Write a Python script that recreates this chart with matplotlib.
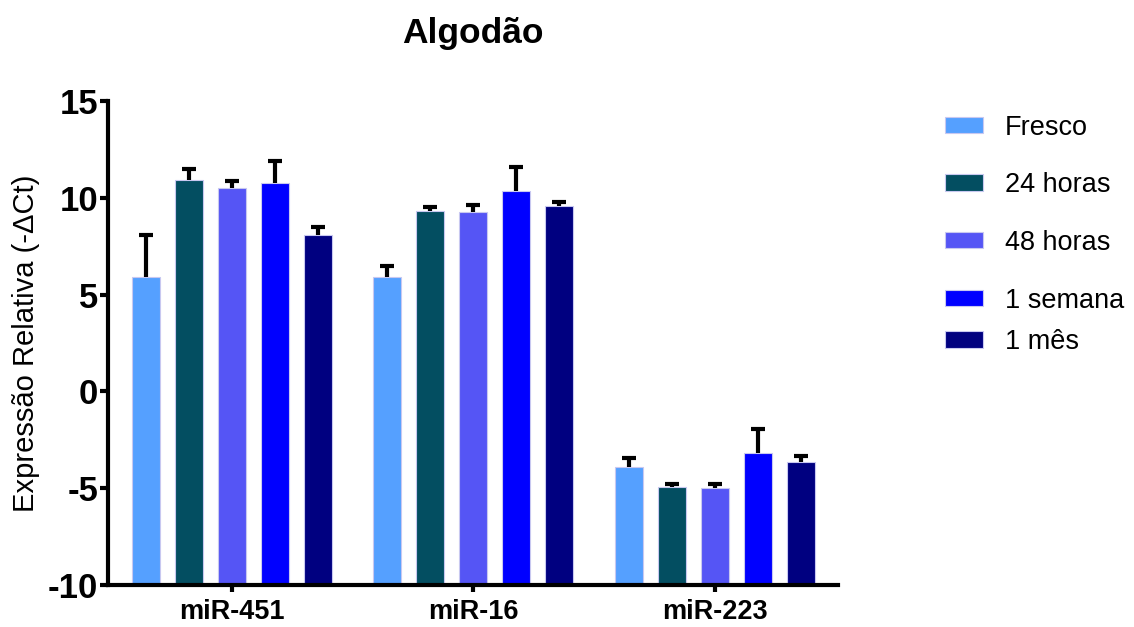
import matplotlib
matplotlib.use("Agg")
import matplotlib.pyplot as plt
import numpy as np

plt.rcParams['font.family'] = ['Liberation Sans', 'DejaVu Sans']

groups = ["miR-451", "miR-16", "miR-223"]
series = ["Fresco", "24 horas", "48 horas", "1 semana", "1 mês"]
colors = ["#55A0FF", "#034E61", "#5555F5", "#0000FF", "#000080"]

fresco = [5.9, 5.9, -3.9]
h24 = [10.9, 9.3, -4.93]
h48 = [10.5, 9.25, -5.0]
semana = [10.77, 10.35, -3.2]
mes = [8.08, 9.58, -3.65]
values = [fresco, h24, h48, semana, mes]

err_fresco = [2.2, 0.58, 0.46]
err_h24 = [0.56, 0.2, 0.17]
err_h48 = [0.34, 0.4, 0.24]
err_semana = [1.12, 1.23, 1.25]
err_mes = [0.39, 0.2, 0.31]
errors = [err_fresco, err_h24, err_h48, err_semana, err_mes]

baseline = -10

fig = plt.figure(figsize=(11.34, 6.27), dpi=100)
ax = fig.add_axes([0.0952, 0.067, 0.644, 0.772])

x = np.arange(len(groups))
spacing = 0.1777
width = 0.1157
handles = []
for i, (vals, errs, c, lab) in enumerate(zip(values, errors, colors, series)):
    pos = x + (i - 2) * spacing
    vals = np.array(vals)
    errs = np.array(errs)
    b = ax.bar(pos, vals - baseline, width=width, bottom=baseline, color=c,
               edgecolor="#C8C8F0", linewidth=0.8, label=lab, zorder=2)
    handles.append(b)
    ax.errorbar(pos, vals, yerr=[np.zeros_like(errs), errs], fmt="none",
                ecolor="black", elinewidth=3, capsize=0, zorder=3)
    ax.plot(pos, vals + errs, linestyle="none", marker="_", markersize=10.5,
            markeredgewidth=3, color="black", zorder=3)

ax.set_ylim(-10, 15)
ax.set_xlim(-0.512, 2.51)
ax.set_yticks([-10, -5, 0, 5, 10, 15])
ax.set_yticklabels(["-10", "-5", "0", "5", "10", "15"], fontsize=25, fontweight="bold")
ax.set_xticks(x)
ax.set_xticklabels(groups, fontsize=19.5, fontweight="bold")
ax.tick_params(axis="y", length=6, width=3, pad=1)
ax.tick_params(axis="x", length=5, width=3, pad=5)
for s in ["top", "right"]:
    ax.spines[s].set_visible(False)
for s in ["left", "bottom"]:
    ax.spines[s].set_linewidth(3)

ax.set_ylabel("Expressão Relativa (-ΔCt)", fontsize=21, labelpad=6)
ax.set_title("Algodão", fontsize=25.5, fontweight="bold", pad=42)

leg_kw = dict(loc="upper left", frameon=False, fontsize=19.5, handlelength=1.4,
              handleheight=0.55, labelspacing=1.17, handletextpad=0.8,
              borderaxespad=0, borderpad=0)
leg1 = ax.legend(handles[:4], series[:4], bbox_to_anchor=(1.1466, 0.972), **leg_kw)
ax.add_artist(leg1)
leg2 = ax.legend(handles[4:], series[4:], bbox_to_anchor=(1.1466, 0.529), **leg_kw)

fig.savefig("out.png", dpi=100)
